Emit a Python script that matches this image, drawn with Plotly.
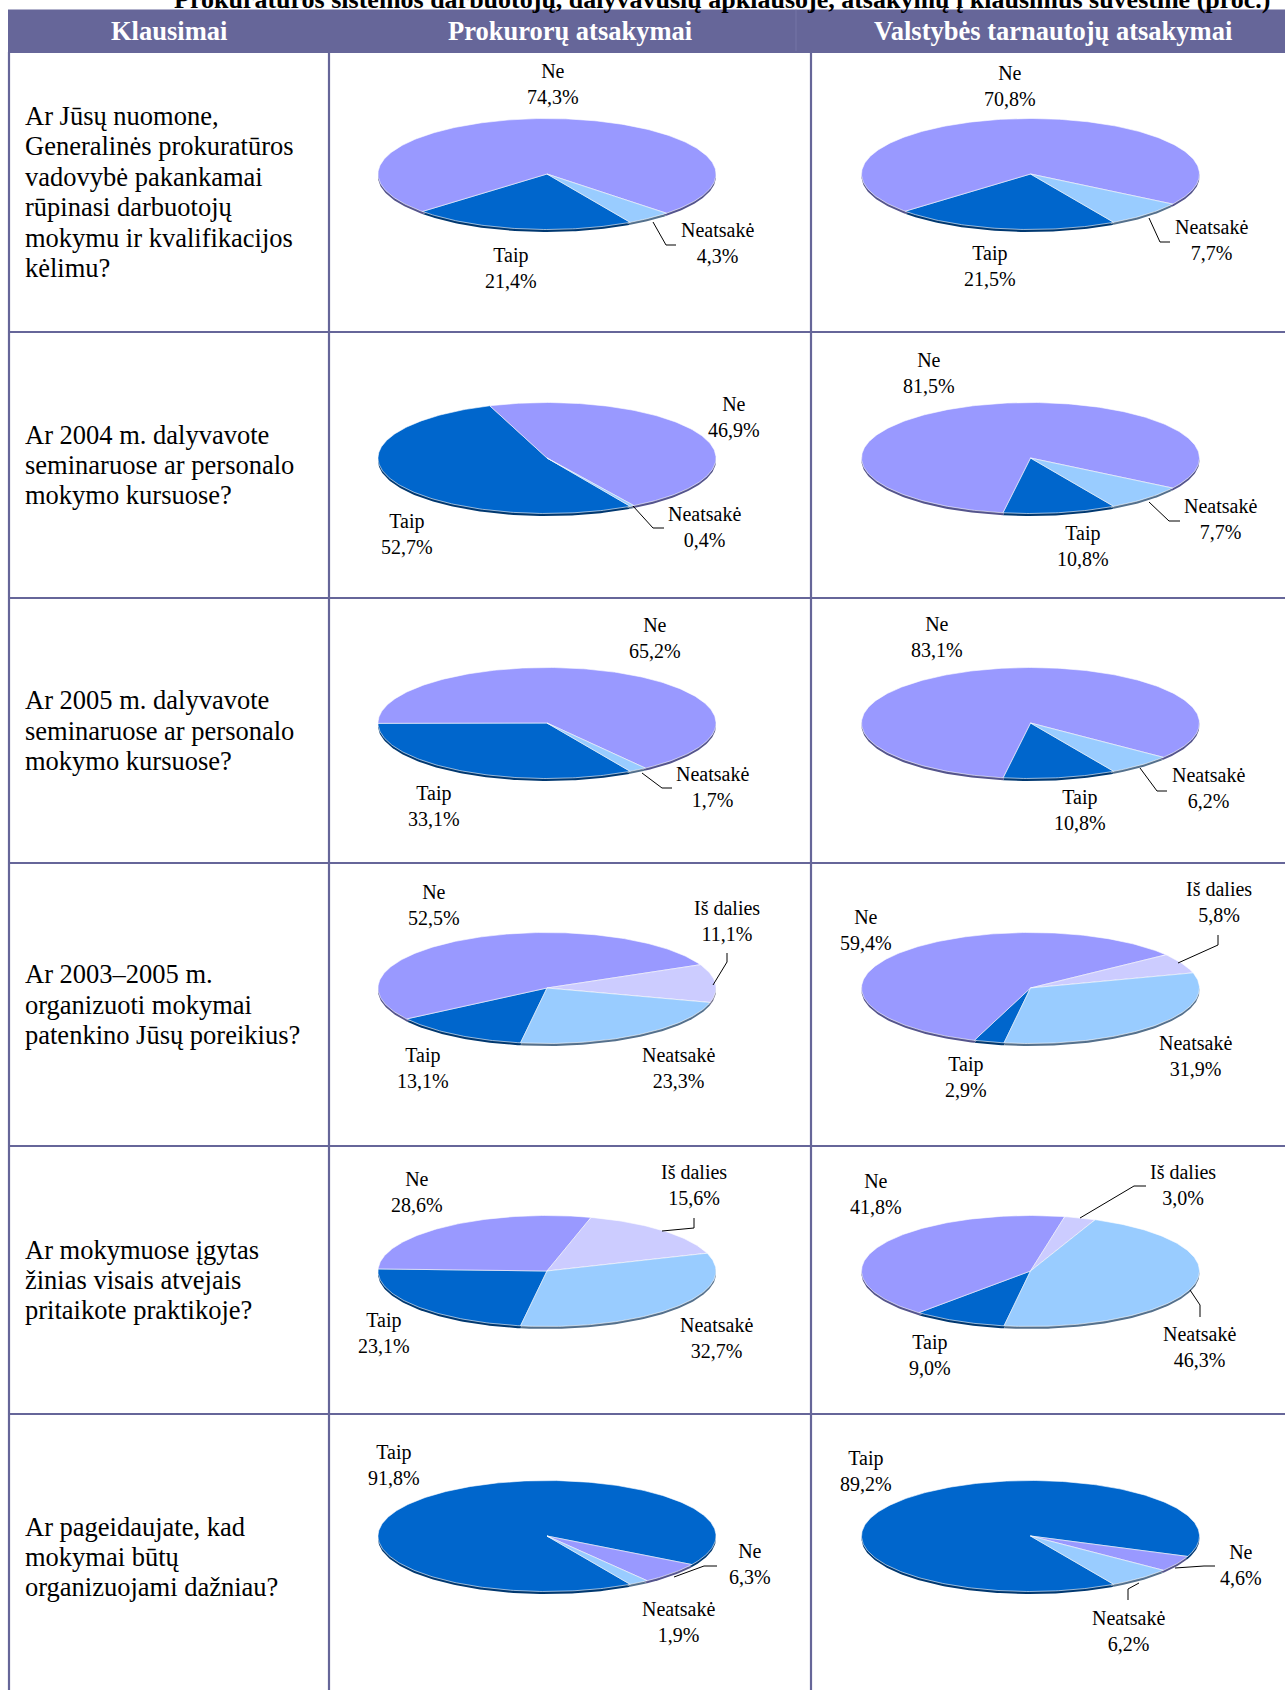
import numpy as np
import plotly.graph_objects as go

# ---------------- data ----------------
title_text = "Prokuratūros sistemos darbuotojų, dalyvavusių apklausoje, atsakymų į klausimus suvestinė (proc.)"
column_headers = ["Klausimai", "Prokurorų atsakymai", "Valstybės tarnautojų atsakymai"]

answers_3 = ["Taip", "Ne", "Neatsakė"]
answers_4 = ["Taip", "Ne", "Iš dalies", "Neatsakė"]

q1_text = ["Ar Jūsų nuomone,", "Generalinės prokuratūros", "vadovybė pakankamai",
           "rūpinasi darbuotojų", "mokymu ir kvalifikacijos", "kėlimu?"]
q2_text = ["Ar 2004 m. dalyvavote", "seminaruose ar personalo", "mokymo kursuose?"]
q3_text = ["Ar 2005 m. dalyvavote", "seminaruose ar personalo", "mokymo kursuose?"]
q4_text = ["Ar 2003–2005 m.", "organizuoti mokymai", "patenkino Jūsų poreikius?"]
q5_text = ["Ar mokymuose įgytas", "žinias visais atvejais", "pritaikote praktikoje?"]
q6_text = ["Ar pageidaujate, kad", "mokymai būtų", "organizuojami dažniau?"]

q1_prok = [21.4, 74.3, 4.3]
q1_valst = [21.5, 70.8, 7.7]
q2_prok = [52.7, 46.9, 0.4]
q2_valst = [10.8, 81.5, 7.7]
q3_prok = [33.1, 65.2, 1.7]
q3_valst = [10.8, 83.1, 6.2]
q4_prok = [13.1, 52.5, 11.1, 23.3]
q4_valst = [2.9, 59.4, 5.8, 31.9]
q5_prok = [23.1, 28.6, 15.6, 32.7]
q5_valst = [9.0, 41.8, 3.0, 46.3]
q6_prok = [91.8, 6.3, 1.9]
q6_valst = [89.2, 4.6, 6.2]

# ---------------- styles / layout ----------------
W, H = 1285, 1690
BORDER = "#666699"
HEADER_BG = "#666699"
SERIF = "Liberation Serif"
COLORS = {"Taip": "#0066CC", "Ne": "#9999FF", "Neatsakė": "#99CCFF", "Iš dalies": "#CCCCFF"}

col_x = [9, 329, 811]
row_y = [52, 332, 598, 863, 1146, 1414, H]
header_top = 9.5
header_centers_x = [169, 570, 1053]

pie_cx = [547, 1030.5]
pie_cy = [174, 458, 723, 988, 1271, 1536]
RX, RY, DEPTH = 169, 55.5, 2.5
rotations = [150.5, 150.5, 150.5, 189, 189, 150.5]

rows = [
    (q1_text, answers_3, q1_prok, q1_valst),
    (q2_text, answers_3, q2_prok, q2_valst),
    (q3_text, answers_3, q3_prok, q3_valst),
    (q4_text, answers_4, q4_prok, q4_valst),
    (q5_text, answers_4, q5_prok, q5_valst),
    (q6_text, answers_3, q6_prok, q6_valst),
]

# label placement (page pixels) per pie: [prok, valst]
label_pos = [
    [{"Ne": (553, 84), "Taip": (511, 267.5), "Neatsakė": (717, 242.5)},
     {"Ne": (1010, 86), "Taip": (990, 266), "Neatsakė": (1211, 239.5)}],
    [{"Ne": (734, 417), "Taip": (407, 533.5), "Neatsakė": (704.5, 526.5)},
     {"Ne": (928.7, 373), "Taip": (1083, 546), "Neatsakė": (1220, 519)}],
    [{"Ne": (654.6, 638), "Taip": (433.5, 806), "Neatsakė": (712, 786.5)},
     {"Ne": (937, 636.5), "Taip": (1080, 809.5), "Neatsakė": (1208, 788)}],
    [{"Ne": (434, 905), "Iš dalies": (726.7, 921), "Taip": (423, 1067.5), "Neatsakė": (678, 1067.5)},
     {"Ne": (866, 930), "Iš dalies": (1219, 902), "Taip": (966, 1077), "Neatsakė": (1195.5, 1055.5)}],
    [{"Ne": (416.5, 1192), "Iš dalies": (693.6, 1185), "Taip": (383.6, 1333), "Neatsakė": (716.7, 1338)},
     {"Ne": (876, 1194), "Iš dalies": (1182.6, 1185), "Taip": (930, 1354.5), "Neatsakė": (1199.7, 1347)}],
    [{"Taip": (394, 1464.5), "Ne": (750, 1564), "Neatsakė": (678, 1621.5)},
     {"Taip": (866, 1471), "Ne": (1240.5, 1565), "Neatsakė": (1128, 1630.5)}],
]

leaders = [
    [(653, 222), (666, 245), (676, 245)],
    [(1149, 218), (1160, 242), (1170, 242)],
    [(633, 506), (653, 528), (664, 528)],
    [(1149, 502), (1169, 521), (1180, 521)],
    [(642, 773), (662, 788), (672, 788)],
    [(1140, 768), (1157, 791), (1167, 791)],
    [(713, 985), (727, 962), (727, 953)],
    [(1178, 963), (1218, 945), (1218, 935)],
    [(662, 1231), (694, 1228), (694, 1218)],
    [(1080, 1218), (1134, 1186), (1146, 1186)],
    [(1190, 1290), (1200, 1305), (1200, 1317)],
    [(674, 1577), (704, 1566), (717, 1566)],
    [(1175, 1568), (1204, 1566), (1215, 1566)],
    [(1139, 1583), (1128, 1589), (1128, 1600)],
]


def darker(hexcol, f=0.55):
    h = hexcol.lstrip("#")
    r, g, b = (int(h[i:i + 2], 16) for i in (0, 2, 4))
    return "rgb(%d,%d,%d)" % (r * f, g * f, b * f)


def wedge(cx, cy, a0, a1, dy=0.0):
    n = max(int(abs(a1 - a0) / 1.0) + 2, 3)
    t = np.radians(np.linspace(a0, a1, n))
    xs = np.concatenate([[cx], cx + RX * np.sin(t), [cx]])
    ys = np.concatenate([[cy + dy], cy + dy - RY * np.cos(t), [cy + dy]])
    return xs, ys


fig = go.Figure()

# pies
for r, (qtext, answers, pv, vv) in enumerate(rows):
    for c, vals in enumerate([pv, vv]):
        cx, cy = pie_cx[c], pie_cy[r]
        total = float(sum(vals))
        starts = []
        a = rotations[r]
        for v in vals:
            span = 360.0 * v / total
            starts.append((a, a + span))
            a += span
        # side (depth)
        for (a0, a1), name in zip(starts, answers):
            xs, ys = wedge(cx, cy, a0, a1, DEPTH)
            fig.add_trace(go.Scatter(x=xs, y=ys, mode="lines", fill="toself",
                                     fillcolor=darker(COLORS[name]),
                                     line=dict(width=0, color=darker(COLORS[name])),
                                     hoverinfo="skip", showlegend=False))
        # top faces
        for (a0, a1), name, v in zip(starts, answers, vals):
            xs, ys = wedge(cx, cy, a0, a1)
            fig.add_trace(go.Scatter(x=xs, y=ys, mode="lines", fill="toself",
                                     fillcolor=COLORS[name],
                                     line=dict(width=0.6, color="white"),
                                     name=name, text="%s %s%%" % (name, str(v).replace(".", ",")),
                                     hoverinfo="text", showlegend=False))
        # labels
        for name, v in zip(answers, vals):
            lx, ly = label_pos[r][c][name]
            fig.add_annotation(x=lx, y=ly, xref="x", yref="y",
                               text="%s<br>%s%%" % (name, ("%.1f" % v).replace(".", ",")),
                               showarrow=False, xanchor="center", yanchor="middle",
                               font=dict(family=SERIF, size=20, color="black"))

shapes = []
# header band
shapes.append(dict(type="rect", xref="x", yref="y", x0=8, x1=W, y0=header_top, y1=row_y[0],
                   fillcolor=HEADER_BG, line=dict(width=0), layer="below"))
shapes.append(dict(type="line", xref="x", yref="y", x0=796, x1=796, y0=header_top, y1=row_y[0],
                   line=dict(color="#7474a6", width=1)))
# horizontal lines
for y in row_y[:-1]:
    shapes.append(dict(type="line", xref="x", yref="y", x0=8, x1=W, y0=y, y1=y,
                       line=dict(color=BORDER, width=2.2)))
# vertical lines
for x in col_x:
    shapes.append(dict(type="line", xref="x", yref="y", x0=x, x1=x, y0=row_y[0], y1=H,
                       line=dict(color=BORDER, width=2.2)))
# leader lines
for pts in leaders:
    path = "M %s,%s " % pts[0] + " ".join("L %s,%s" % p for p in pts[1:])
    shapes.append(dict(type="path", xref="x", yref="y", path=path,
                       line=dict(color="black", width=1)))

# header texts
for hx, htxt in zip(header_centers_x, column_headers):
    fig.add_annotation(x=hx, y=31, xref="x", yref="y", text="<b>%s</b>" % htxt,
                       showarrow=False, xanchor="center", yanchor="middle",
                       font=dict(family=SERIF, size=26.5, color="white"))

# title (cut at top edge of page)
fig.add_annotation(x=172 / W, y=1.0 + 1.0 / H, xref="paper", yref="paper",
                   text="<b>%s</b>" % title_text,
                   showarrow=False, xanchor="left", yanchor="middle",
                   font=dict(family=SERIF, size=26, color="black"))

# question texts
LINE = 30.4
for r, (qtext, answers, pv, vv) in enumerate(rows):
    if r < 5:
        yc = (row_y[r] + row_y[r + 1]) / 2.0
    else:
        yc = 1557
    n = len(qtext)
    for i, line in enumerate(qtext):
        fig.add_annotation(x=23, y=yc + (i - (n - 1) / 2.0) * LINE, xref="x", yref="y",
                           text=line, showarrow=False, xanchor="left", yanchor="middle",
                           font=dict(family=SERIF, size=26.5, color="black"))

fig.update_layout(
    width=W, height=H,
    margin=dict(l=0, r=0, t=0, b=0, pad=0),
    paper_bgcolor="white", plot_bgcolor="white",
    shapes=shapes,
    xaxis=dict(range=[0, W], visible=False, fixedrange=True),
    yaxis=dict(range=[H, 0], visible=False, fixedrange=True),
    showlegend=False,
)

fig.write_html("out.html", config={"displayModeBar": False},
               post_script="document.body.style.margin='0';document.body.style.overflow='hidden';")
